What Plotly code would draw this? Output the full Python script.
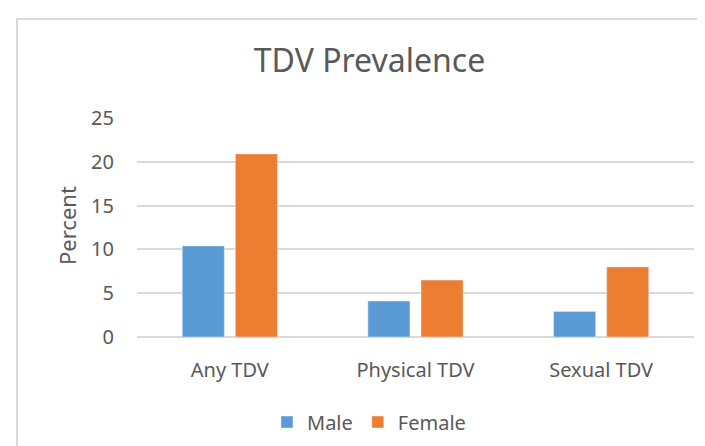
import plotly.graph_objects as go

categories = ["Any TDV", "Physical TDV", "Sexual TDV"]
male = [10.4, 4.1, 2.9]
female = [20.9, 6.5, 8.0]
y_ticks = [0, 5, 10, 15, 20, 25]

FONT = "Noto Sans"
TXT = "#595959"

fig = go.Figure()
fig.add_trace(go.Bar(name="Male", x=categories, y=male, marker_color="#5B9BD5"))
fig.add_trace(go.Bar(name="Female", x=categories, y=female, marker_color="#ED7D31"))

L, R, T, B = 129, 19, 110, 117
W, H = 705, 446
pw, ph = W - L - R, H - T - B

def px_x(x):
    return (x - L) / pw

def px_y(y):
    return (H - B - y) / ph

fig.update_layout(
    width=W, height=H,
    margin=dict(l=L, r=R, t=T, b=B),
    paper_bgcolor="white", plot_bgcolor="white",
    barmode="group", bargap=0.428, bargroupgap=0.2075,
    font=dict(family=FONT, color=TXT),
    title=dict(text="TDV Prevalence", x=361.5 / W, xanchor="center",
               y=1 - 53 / H, yanchor="middle", yref="container",
               font=dict(family=FONT, size=32, color=TXT)),
    legend=dict(orientation="h", x=px_x(361), xanchor="center",
                y=px_y(414), yanchor="middle",
                font=dict(family=FONT, size=20, color=TXT),
                bgcolor="rgba(0,0,0,0)"),
    xaxis=dict(showgrid=False, showline=False, ticks="",
               tickfont=dict(family=FONT, size=20, color=TXT),
               ticklabelstandoff=19),
    yaxis=dict(range=[0, 25], tickvals=y_ticks, showgrid=True,
               gridcolor="#D9D9D9", gridwidth=1.5, zeroline=True,
               zerolinecolor="#D9D9D9", zerolinewidth=1.5, showline=False,
               ticks="", tickfont=dict(family=FONT, size=20, color=TXT),
               ticklabelstandoff=22),
    annotations=[dict(text="Percent", textangle=-90, xref="paper", yref="paper",
                      x=px_x(59), y=px_y(218), xanchor="center", yanchor="middle",
                      showarrow=False, font=dict(family=FONT, size=22, color=TXT))],
    shapes=[dict(type="rect", xref="paper", yref="paper",
                 x0=px_x(9), x1=px_x(W + 20), y0=px_y(H + 20), y1=px_y(11),
                 line=dict(color="#D9D9D9", width=2), layer="below")],
)

fig.write_html("out.html")
